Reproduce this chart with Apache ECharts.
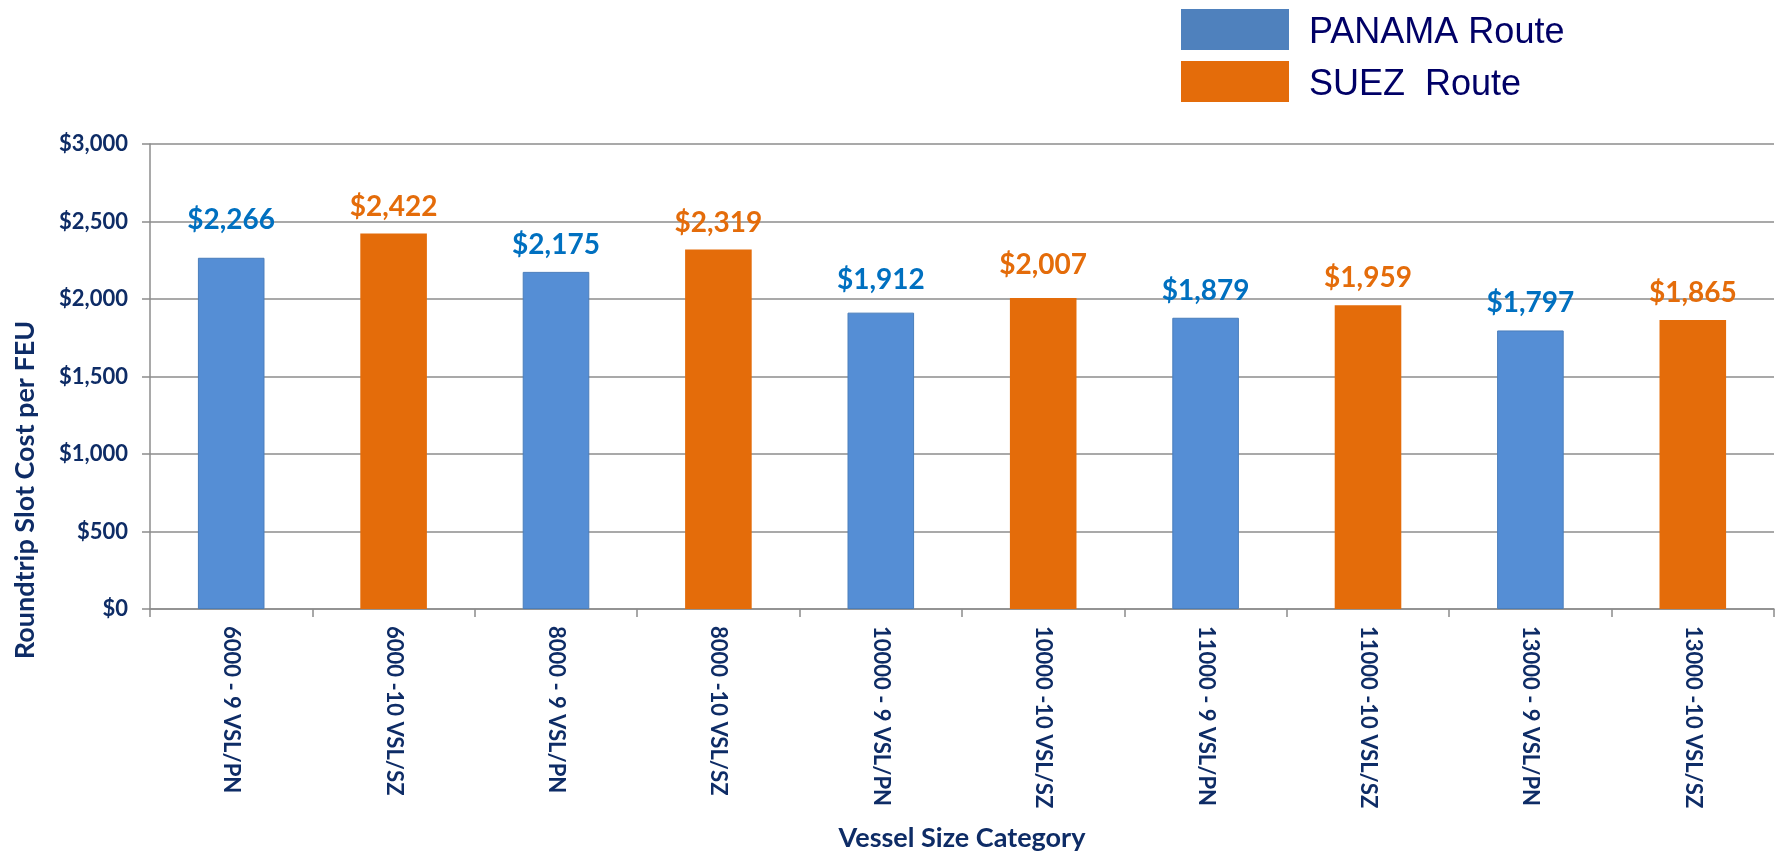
<!DOCTYPE html>
<html>
<head>
<meta charset="utf-8">
<title>Roundtrip Slot Cost per FEU</title>
<script src="https://cdn.jsdelivr.net/npm/echarts@6/dist/echarts.min.js"></script>
<style>
  html, body { margin: 0; padding: 0; background: #ffffff; }
  #chart { width: 1781px; height: 857px; }
</style>
</head>
<body>
<div id="chart"></div>
<script>
// Vessel size categories (size - vessels / route)
const categories = [
  '6000 - 9 VSL/PN', '6000 -10 VSL/SZ',
  '8000 - 9 VSL/PN', '8000 -10 VSL/SZ',
  '10000 - 9 VSL/PN', '10000 -10 VSL/SZ',
  '11000 - 9 VSL/PN', '11000 -10 VSL/SZ',
  '13000 - 9 VSL/PN', '13000 -10 VSL/SZ'
];

// Roundtrip slot cost per FEU (USD); '-' where the route does not apply
const panamaCost = [2266, '-', 2175, '-', 1912, '-', 1879, '-', 1797, '-'];
const suezCost   = ['-', 2422, '-', 2319, '-', 2007, '-', 1959, '-', 1865];

const seriesNames = ['PANAMA Route', 'SUEZ  Route'];

const NAVY = '#0e2c66';
const GRID_GREY = '#8c8c8c';
const LABEL_FONT = 'Lato, "Open Sans", sans-serif';

// a few value labels sit a little higher above their bars
const labelLift = { 0: 11, 4: 6, 5: 6 };

const money = v => '$' + Number(v).toLocaleString('en-US');

function withLabelLift(values) {
  return values.map((v, i) =>
    (v !== '-' && labelLift[i]) ? { value: v, label: { distance: 13 + labelLift[i] } } : v);
}

const chart = echarts.init(document.getElementById('chart'), null, { renderer: 'canvas' });

chart.setOption({
  animation: false,
  backgroundColor: '#ffffff',
  legend: {
    orient: 'vertical',
    left: 1176,
    top: 3,
    itemWidth: 108,
    itemHeight: 41,
    itemGap: 9,
    icon: 'rect',
    selectedMode: false,
    formatter: name => '{t|' + name + '}',
    textStyle: {
      fontFamily: '"Liberation Sans", Arial, sans-serif',
      fontSize: 36,
      color: '#000066',
      rich: {
        t: {
          fontFamily: '"Liberation Sans", Arial, sans-serif',
          fontSize: 36,
          color: '#000066',
          lineHeight: 36,
          padding: [7, 0, 0, 15]
        }
      }
    },
    data: [
      { name: seriesNames[0], itemStyle: { color: '#4F81BD', borderWidth: 0 } },
      { name: seriesNames[1], itemStyle: { color: '#E46C0A', borderWidth: 0 } }
    ]
  },
  grid: { left: 150, right: 7, top: 144, bottom: 245, containLabel: false },
  xAxis: {
    type: 'category',
    data: categories,
    name: 'Vessel Size Category',
    nameLocation: 'middle',
    nameGap: 216,
    nameTextStyle: { fontFamily: LABEL_FONT, fontWeight: 'bold', fontSize: 27, color: NAVY },
    axisLine: { lineStyle: { color: GRID_GREY, width: 1.5 } },
    axisTick: { show: true, length: 8, lineStyle: { color: GRID_GREY, width: 1.5 } },
    axisLabel: {
      interval: 0,
      rotate: -90,
      margin: 17,
      fontFamily: LABEL_FONT,
      fontWeight: 'bold',
      fontSize: 22,
      color: NAVY
    }
  },
  yAxis: {
    type: 'value',
    min: 0,
    max: 3000,
    interval: 500,
    axisLine: { show: true, lineStyle: { color: GRID_GREY, width: 1.5 } },
    axisTick: { show: true, length: 8, lineStyle: { color: GRID_GREY, width: 1.5 } },
    splitLine: { show: true, lineStyle: { color: GRID_GREY, width: 1.5 } },
    axisLabel: {
      margin: 22,
      formatter: money,
      fontFamily: LABEL_FONT,
      fontWeight: 'bold',
      fontSize: 22,
      color: NAVY
    }
  },
  graphic: [
    {
      type: 'text',
      x: 25,
      y: 490,
      rotation: Math.PI / 2,
      style: {
        text: 'Roundtrip Slot Cost per FEU',
        fontFamily: LABEL_FONT,
        fontWeight: 'bold',
        fontSize: 27,
        fill: NAVY,
        textAlign: 'center',
        textVerticalAlign: 'middle'
      }
    }
  ],
  series: [
    {
      name: seriesNames[0],
      type: 'bar',
      barWidth: '41%',
      barGap: '-100%',
      data: withLabelLift(panamaCost),
      itemStyle: { color: '#558ED5', borderColor: '#4A7EBB', borderWidth: 1 },
      label: {
        show: true,
        position: 'top',
        distance: 13,
        formatter: p => money(p.value),
        fontFamily: LABEL_FONT,
        fontWeight: 'bold',
        fontSize: 28,
        color: '#0070C0'
      }
    },
    {
      name: seriesNames[1],
      type: 'bar',
      barWidth: '41%',
      barGap: '-100%',
      data: withLabelLift(suezCost),
      itemStyle: { color: '#E46C0A' },
      label: {
        show: true,
        position: 'top',
        distance: 13,
        formatter: p => money(p.value),
        fontFamily: LABEL_FONT,
        fontWeight: 'bold',
        fontSize: 28,
        color: '#E46C0A'
      }
    }
  ]
});
</script>
</body>
</html>
